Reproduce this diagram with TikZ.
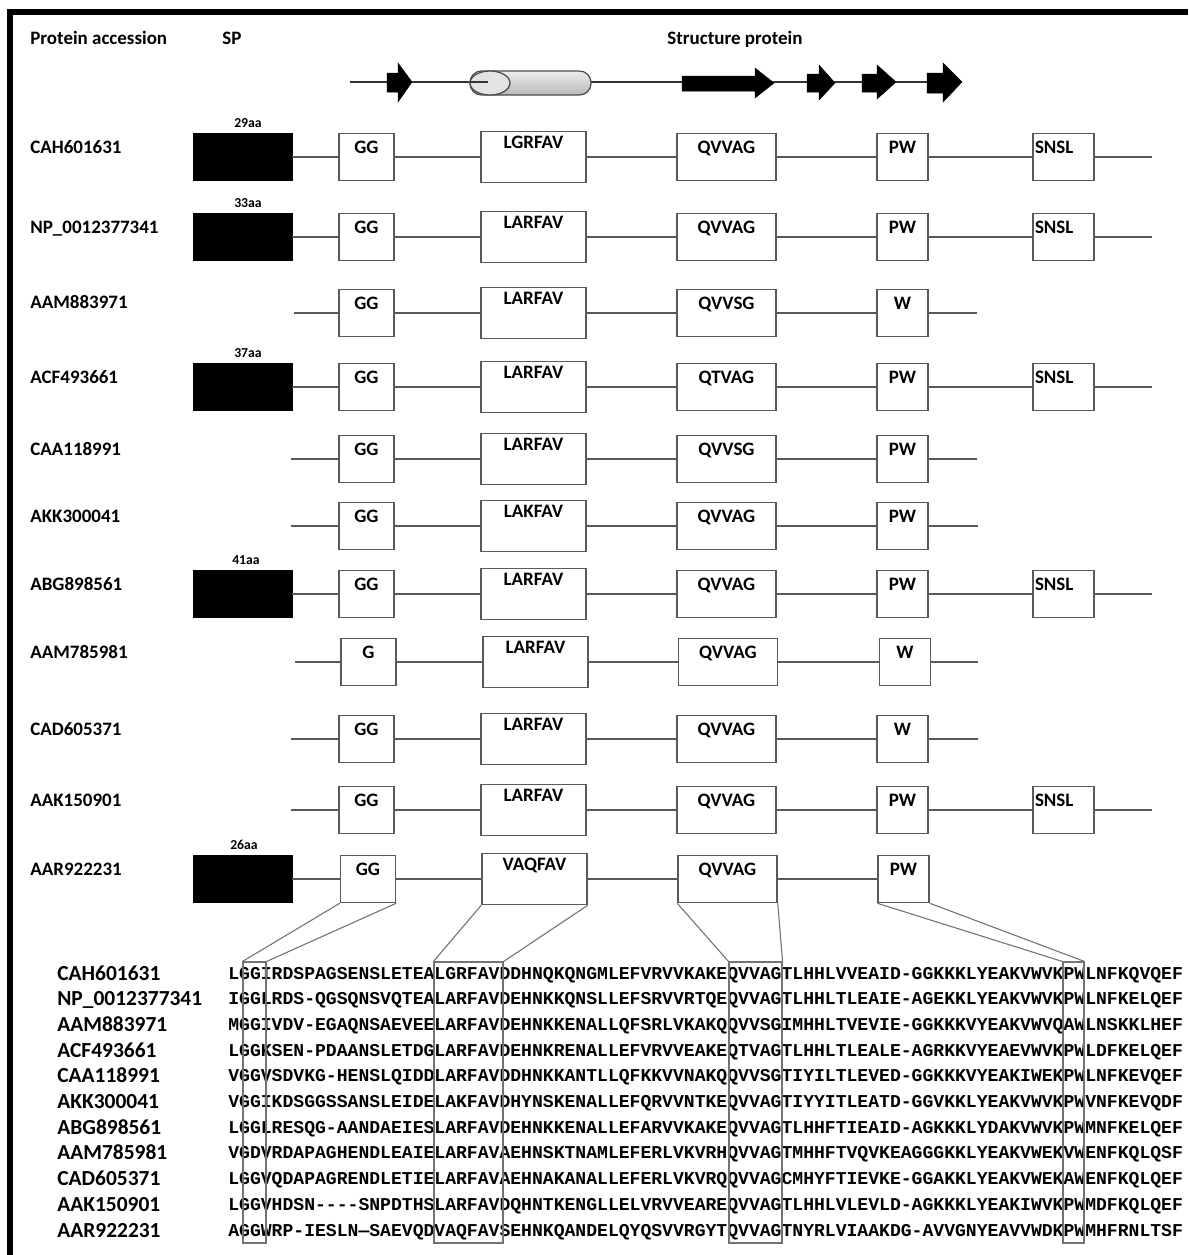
\documentclass[tikz,border=0pt]{standalone}
\usepackage{fontspec}
\setmainfont{Carlito}
\newfontfamily\alnfont{Liberation Mono}[Ligatures=TeXOff]
\begin{document}
\begin{tikzpicture}[x=0.02cm,y=-0.02cm,
 conn/.style={draw=black!65, line width=0.035cm},
 bx/.style={draw=black!65, line width=0.03cm, inner sep=0pt, font=\fontsize{10.8pt}{12pt}\selectfont\bfseries, text height=0.39cm, text depth=0.55cm},
 spbox/.style={fill=black, draw=black, inner sep=0pt, minimum width=1.98cm, minimum height=0.94cm},
 ggbox/.style={bx, minimum width=1.1cm},
 labox/.style={bx, minimum width=2.1cm, text height=0.33cm, text depth=0.69cm},
 qvbox/.style={bx, minimum width=1.98cm},
 pwbox/.style={bx, minimum width=1.02cm},
 snbox/.style={bx, minimum width=1.22cm},
 rowlab/.style={anchor=base west, inner sep=0pt, font=\fontsize{10.8pt}{13pt}\selectfont\bfseries},
 aalab/.style={inner sep=0pt, font=\fontsize{7.8pt}{9pt}\selectfont\bfseries},
 alab/.style={anchor=base west, inner sep=0pt, font=\fontsize{12.2pt}{14pt}\selectfont\bfseries},
 aseq/.style={anchor=base west, inner sep=0pt, font=\alnfont\fontsize{10.29pt}{12pt}\selectfont\bfseries},
 abox/.style={draw=black!55, line width=0.022cm, inner sep=0pt, minimum height=5.62cm},
 funnel/.style={draw=black!55, line width=0.022cm},
 arr/.style={fill=black, draw=black, line width=0.01cm},
]
\useasboundingbox (0,0) rectangle (1188,1255);
% frame
\draw[line width=0.11cm, line join=miter] (1188,12) -- (10,12) -- (10,1255);

% header
\node[rowlab] (hpa) at (30,44) {Protein accession};
\node[rowlab] (hsp) at (222,44) {SP};
\node[rowlab] (hst) at (667,44) {Structure protein};

% structure scheme
\draw[line width=0.04cm, black!80] (350,82) -- (945,82);
\fill[arr] (387,73) -- (398,73) -- (398,63) -- (412,82) -- (398,102) -- (398,92) -- (387,92) -- cycle;
\shade[top color=gray!15, bottom color=gray!55, draw=black!70, line width=0.025cm, rounded corners=0.23cm] (470,71) rectangle (591,95);
\draw[fill=gray!22, draw=black!70, line width=0.025cm] (490,83) ellipse (0.4cm and 0.24cm);
\draw[line width=0.03cm, black!80] (470,82) -- (488,82);
\fill[arr] (682,76) -- (755,76) -- (755,68) -- (774,83) -- (755,98) -- (755,91) -- (682,91) -- cycle;
\fill[arr] (807,74) -- (819,74) -- (819,65) -- (835,83) -- (819,100) -- (819,92) -- (807,92) -- cycle;
\fill[arr] (862,74) -- (877,74) -- (877,65) -- (896,82) -- (877,99) -- (877,92) -- (862,92) -- cycle;
\fill[arr] (927,73) -- (943,73) -- (943,63) -- (962,82) -- (943,102) -- (943,93) -- (927,93) -- cycle;

% Row 1
\node[rowlab] (l1) at (30,153) {CAH601631};
\node[spbox] (r1sp) at (242.5,157) {};
\node[aalab] (r1aa) at (248,123) {29aa};
\node[ggbox] (r1gg) at (366.5,157) {GG};
\node[labox] (r1la) at (533.5,157) {LGRFAV};
\node[qvbox] (r1qv) at (726.5,157) {QVVAG};
\node[pwbox] (r1pw) at (902.5,157) {PW};
\node[snbox] (r1sn) at (1063.5,157) {\makebox[1.14cm][l]{SNSL}};
\coordinate (r1e) at (1152,157);
\draw[conn] (r1sp) -- (r1gg) (r1gg) -- (r1la) (r1la) -- (r1qv) (r1qv) -- (r1pw) (r1pw) -- (r1sn) (r1sn) -- (r1e);

% Row 2
\node[rowlab] (l2) at (30,233) {NP\_0012377341};
\node[spbox] (r2sp) at (242.5,237) {};
\node[aalab] (r2aa) at (248,203) {33aa};
\node[ggbox] (r2gg) at (366.5,237) {GG};
\node[labox] (r2la) at (533.5,237) {LARFAV};
\node[qvbox] (r2qv) at (726.5,237) {QVVAG};
\node[pwbox] (r2pw) at (902.5,237) {PW};
\node[snbox] (r2sn) at (1063.5,237) {\makebox[1.14cm][l]{SNSL}};
\coordinate (r2e) at (1152,237);
\draw[conn] (r2sp) -- (r2gg) (r2gg) -- (r2la) (r2la) -- (r2qv) (r2qv) -- (r2pw) (r2pw) -- (r2sn) (r2sn) -- (r2e);

% Row 3
\node[rowlab] (l3) at (30,308) {AAM883971};
\coordinate (r3s) at (294,313);
\node[ggbox] (r3gg) at (366.5,313) {GG};
\node[labox] (r3la) at (533.5,313) {LARFAV};
\node[qvbox] (r3qv) at (726.5,313) {QVVSG};
\node[pwbox] (r3pw) at (902.5,313) {W};
\coordinate (r3e) at (977,313);
\draw[conn] (r3s) -- (r3gg) (r3gg) -- (r3la) (r3la) -- (r3qv) (r3qv) -- (r3pw) (r3pw) -- (r3e);

% Row 4
\node[rowlab] (l4) at (30,383) {ACF493661};
\node[spbox] (r4sp) at (242.5,387) {};
\node[aalab] (r4aa) at (248,353) {37aa};
\node[ggbox] (r4gg) at (366.5,387) {GG};
\node[labox] (r4la) at (533.5,387) {LARFAV};
\node[qvbox] (r4qv) at (726.5,387) {QTVAG};
\node[pwbox] (r4pw) at (902.5,387) {PW};
\node[snbox] (r4sn) at (1063.5,387) {\makebox[1.14cm][l]{SNSL}};
\coordinate (r4e) at (1152,387);
\draw[conn] (r4sp) -- (r4gg) (r4gg) -- (r4la) (r4la) -- (r4qv) (r4qv) -- (r4pw) (r4pw) -- (r4sn) (r4sn) -- (r4e);

% Row 5
\node[rowlab] (l5) at (30,455) {CAA118991};
\coordinate (r5s) at (291,459);
\node[ggbox] (r5gg) at (366.5,459) {GG};
\node[labox] (r5la) at (533.5,459) {LARFAV};
\node[qvbox] (r5qv) at (726.5,459) {QVVSG};
\node[pwbox] (r5pw) at (902.5,459) {PW};
\coordinate (r5e) at (977,459);
\draw[conn] (r5s) -- (r5gg) (r5gg) -- (r5la) (r5la) -- (r5qv) (r5qv) -- (r5pw) (r5pw) -- (r5e);

% Row 6
\node[rowlab] (l6) at (30,522) {AKK300041};
\coordinate (r6s) at (291,526);
\node[ggbox] (r6gg) at (366.5,526) {GG};
\node[labox] (r6la) at (533.5,526) {LAKFAV};
\node[qvbox] (r6qv) at (726.5,526) {QVVAG};
\node[pwbox] (r6pw) at (902.5,526) {PW};
\coordinate (r6e) at (978,526);
\draw[conn] (r6s) -- (r6gg) (r6gg) -- (r6la) (r6la) -- (r6qv) (r6qv) -- (r6pw) (r6pw) -- (r6e);

% Row 7
\node[rowlab] (l7) at (30,590) {ABG898561};
\node[spbox] (r7sp) at (242.5,594) {};
\node[aalab] (r7aa) at (246,560) {41aa};
\node[ggbox] (r7gg) at (366.5,594) {GG};
\node[labox] (r7la) at (533.5,594) {LARFAV};
\node[qvbox] (r7qv) at (726.5,594) {QVVAG};
\node[pwbox] (r7pw) at (902.5,594) {PW};
\node[snbox] (r7sn) at (1063.5,594) {\makebox[1.14cm][l]{SNSL}};
\coordinate (r7e) at (1152,594);
\draw[conn] (r7sp) -- (r7gg) (r7gg) -- (r7la) (r7la) -- (r7qv) (r7qv) -- (r7pw) (r7pw) -- (r7sn) (r7sn) -- (r7e);

% Row 8
\node[rowlab] (l8) at (30,658) {AAM785981};
\coordinate (r8s) at (295,662);
\node[ggbox] (r8gg) at (368.5,662) {G};
\node[labox] (r8la) at (535.5,662) {LARFAV};
\node[qvbox] (r8qv) at (728,662) {QVVAG};
\node[pwbox] (r8pw) at (905,662) {W};
\coordinate (r8e) at (978,662);
\draw[conn] (r8s) -- (r8gg) (r8gg) -- (r8la) (r8la) -- (r8qv) (r8qv) -- (r8pw) (r8pw) -- (r8e);

% Row 9
\node[rowlab] (l9) at (30,735) {CAD605371};
\coordinate (r9s) at (291,739);
\node[ggbox] (r9gg) at (366.5,739) {GG};
\node[labox] (r9la) at (533.5,739) {LARFAV};
\node[qvbox] (r9qv) at (726.5,739) {QVVAG};
\node[pwbox] (r9pw) at (902.5,739) {W};
\coordinate (r9e) at (978,739);
\draw[conn] (r9s) -- (r9gg) (r9gg) -- (r9la) (r9la) -- (r9qv) (r9qv) -- (r9pw) (r9pw) -- (r9e);

% Row 10
\node[rowlab] (l10) at (30,806) {AAK150901};
\coordinate (r10s) at (291,810);
\node[ggbox] (r10gg) at (366.5,810) {GG};
\node[labox] (r10la) at (533.5,810) {LARFAV};
\node[qvbox] (r10qv) at (726.5,810) {QVVAG};
\node[pwbox] (r10pw) at (902.5,810) {PW};
\node[snbox] (r10sn) at (1063.5,810) {\makebox[1.14cm][l]{SNSL}};
\coordinate (r10e) at (1152,810);
\draw[conn] (r10s) -- (r10gg) (r10gg) -- (r10la) (r10la) -- (r10qv) (r10qv) -- (r10pw) (r10pw) -- (r10sn) (r10sn) -- (r10e);

% Row 11
\node[rowlab] (l11) at (30,875) {AAR922231};
\node[spbox] (r11sp) at (242.5,879) {};
\node[aalab] (r11aa) at (244,845) {26aa};
\node[ggbox] (r11gg) at (368,879) {GG};
\node[labox] (r11la) at (534.5,879) {VAQFAV};
\node[qvbox] (r11qv) at (727.5,879) {QVVAG};
\node[pwbox] (r11pw) at (903.5,879) {PW};
\draw[conn] (r11sp) -- (r11gg) (r11gg) -- (r11la) (r11la) -- (r11qv) (r11qv) -- (r11pw);

% alignment
\node[alab] (al1) at (57,980) {CAH601631};
\node[aseq] (as1) at (228,979) {LGGIRDSPAGSENSLETEALGRFAVDDHNQKQNGMLEFVRVVKAKEQVVAGTLHHLVVEAID-GGKKKLYEAKVWVKPWLNFKQVQEF};
\node[alab] (al2) at (57,1005.7) {NP\_0012377341};
\node[aseq] (as2) at (228,1004.7) {IGGLRDS-QGSQNSVQTEALARFAVDEHNKKQNSLLEFSRVVRTQEQVVAGTLHHLTLEAIE-AGEKKLYEAKVWVKPWLNFKELQEF};
\node[alab] (al3) at (57,1031.4) {AAM883971};
\node[aseq] (as3) at (228,1030.4) {MGGIVDV-EGAQNSAEVEELARFAVDEHNKKENALLQFSRLVKAKQQVVSGIMHHLTVEVIE-GGKKKVYEAKVWVQAWLNSKKLHEF};
\node[alab] (al4) at (57,1057.1) {ACF493661};
\node[aseq] (as4) at (228,1056.1) {LGGKSEN-PDAANSLETDGLARFAVDEHNKRENALLEFVRVVEAKEQTVAGTLHHLTLEALE-AGRKKVYEAEVWVKPWLDFKELQEF};
\node[alab] (al5) at (57,1082.8) {CAA118991};
\node[aseq] (as5) at (228,1081.8) {VGGVSDVKG-HENSLQIDDLARFAVDDHNKKANTLLQFKKVVNAKQQVVSGTIYILTLEVED-GGKKKVYEAKIWEKPWLNFKEVQEF};
\node[alab] (al6) at (57,1108.5) {AKK300041};
\node[aseq] (as6) at (228,1107.5) {VGGIKDSGGSSANSLEIDELAKFAVDHYNSKENALLEFQRVVNTKEQVVAGTIYYITLEATD-GGVKKLYEAKVWVKPWVNFKEVQDF};
\node[alab] (al7) at (57,1134.2) {ABG898561};
\node[aseq] (as7) at (228,1133.2) {LGGLRESQG-AANDAEIESLARFAVDEHNKKENALLEFARVVKAKEQVVAGTLHHFTIEAID-AGKKKLYDAKVWVKPWMNFKELQEF};
\node[alab] (al8) at (57,1159.9) {AAM785981};
\node[aseq] (as8) at (228,1158.9) {VGDVRDAPAGHENDLEAIELARFAVAEHNSKTNAMLEFERLVKVRHQVVAGTMHHFTVQVKEAGGGKKLYEAKVWEKVWENFKQLQSF};
\node[alab] (al9) at (57,1185.6) {CAD605371};
\node[aseq] (as9) at (228,1184.6) {LGGVQDAPAGRENDLETIELARFAVAEHNAKANALLEFERLVKVRQQVVAGCMHYFTIEVKE-GGAKKLYEAKVWEKAWENFKQLQEF};
\node[alab] (al10) at (57,1211.3) {AAK150901};
\node[aseq] (as10) at (228,1210.3) {LGGVHDSN----SNPDTHSLARFAVDQHNTKENGLLELVRVVEAREQVVAGTLHHLVLEVLD-AGKKKLYEAKIWVKPWMDFKQLQEF};
\node[alab] (al11) at (57,1237) {AAR922231};
\node[aseq] (as11) at (228,1236) {AGGWRP-IESLN—SAEVQDVAQFAVSEHNKQANDELQYQSVVRGYTQVVAGTNYRLVIAAKDG-AVVGNYEAVVWDKPWMHFRNLTSF};

% alignment boxes
\node[abox, minimum width=0.46cm] (agg) at (254.5,1102.5) {};
\node[abox, minimum width=1.38cm] (ala) at (468.5,1102.5) {};
\node[abox, minimum width=1.06cm] (aqv) at (755.5,1102.5) {};
\node[abox, minimum width=0.42cm] (apw) at (1073.5,1102.5) {};

% funnels
\draw[funnel] (r11gg.south west) -- (agg.north west) (r11gg.south east) -- (agg.north east);
\draw[funnel] (r11la.south west) -- (ala.north west) (r11la.south east) -- (ala.north east);
\draw[funnel] (r11qv.south west) -- (aqv.north west) (r11qv.south east) -- (aqv.north east);
\draw[funnel] (r11pw.south west) -- (apw.north west) (r11pw.south east) -- (apw.north east);
\end{tikzpicture}
\end{document}
